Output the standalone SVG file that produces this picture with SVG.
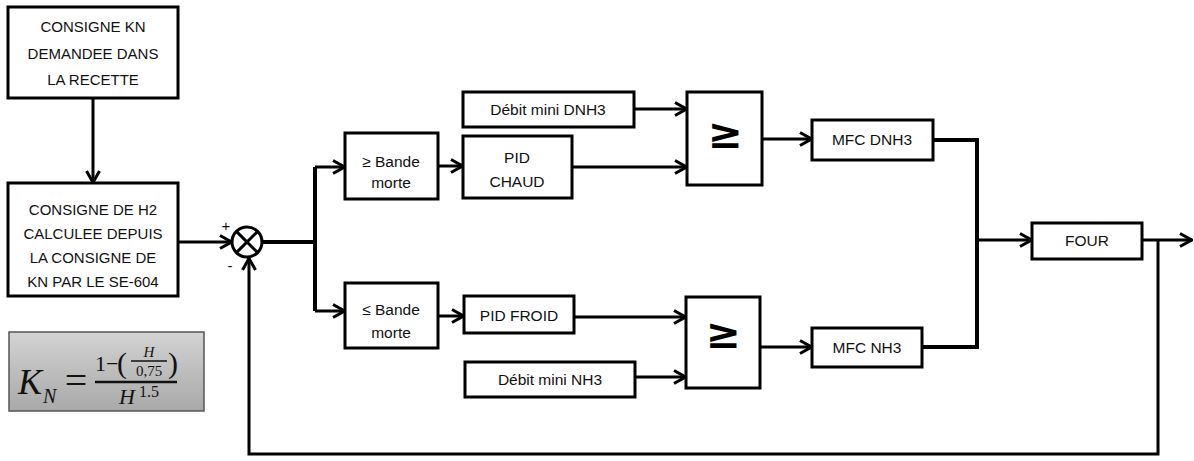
<svg xmlns="http://www.w3.org/2000/svg" width="1194" height="461" viewBox="0 0 1194 461">
<style>
.box{fill:#fff;stroke:#000;stroke-width:3}
.t{font-family:"Liberation Sans",Arial,sans-serif;font-size:15px;fill:#111;text-anchor:middle}
.t2{font-family:"Liberation Sans",Arial,sans-serif;font-size:15.5px;fill:#111;text-anchor:middle}
.ge{font-family:"DejaVu Sans",sans-serif;font-size:42px;fill:#000;text-anchor:middle;font-weight:bold}
.ln{fill:none;stroke:#000;stroke-width:3}
.lnb{fill:none;stroke:#000;stroke-width:4}
.m{font-family:"Liberation Serif","DejaVu Serif",serif;font-style:italic;fill:#111}
.r{font-family:"Liberation Serif","DejaVu Serif",serif;fill:#111}
</style>
<defs>
<marker id="arr" viewBox="0 0 14 16" refX="13" refY="8" markerWidth="14" markerHeight="16" markerUnits="userSpaceOnUse" orient="auto">
<path d="M1,1.5 L12.5,8 L1,14.5" fill="none" stroke="#000" stroke-width="3"/>
</marker>
<linearGradient id="gr" x1="0" y1="0" x2="0" y2="1">
<stop offset="0" stop-color="#d4d4d4"/>
<stop offset="0.5" stop-color="#bdbdbd"/>
<stop offset="1" stop-color="#a9a9a9"/>
</linearGradient>
</defs>

<g id="connectors">
<path class="ln" d="M93,98 V183" marker-end="url(#arr)"/>
<path class="ln" d="M178,242 H232" marker-end="url(#arr)"/>
<path class="lnb" d="M262,242 H315"/>
<path class="lnb" d="M315,167 V311"/>
<path class="ln" d="M315,167 H345" marker-end="url(#arr)"/>
<path class="ln" d="M315,311 H345" marker-end="url(#arr)"/>
<path class="ln" d="M438,166 H463" marker-end="url(#arr)"/>
<path class="ln" d="M438,316 H464" marker-end="url(#arr)"/>
<path class="ln" d="M634,109 H687" marker-end="url(#arr)"/>
<path class="ln" d="M572,167 H687" marker-end="url(#arr)"/>
<path class="ln" d="M574,317 H686" marker-end="url(#arr)"/>
<path class="ln" d="M635,377 H686" marker-end="url(#arr)"/>
<path class="ln" d="M762,139 H812" marker-end="url(#arr)"/>
<path class="ln" d="M760,347 H812" marker-end="url(#arr)"/>
<path class="lnb" d="M933,140 H977 V347 H922"/>
<path class="ln" d="M977,240 H1032" marker-end="url(#arr)"/>
<path class="ln" d="M1142,240 H1192" marker-end="url(#arr)"/>
<path class="ln" d="M1158,240 V454 H249 V258" marker-end="url(#arr)"/>
</g>

<g id="n-consigne-kn">
<rect class="box" x="8" y="7" width="170" height="91"/>
<text class="t" x="93" y="32">CONSIGNE KN</text>
<text class="t" x="93" y="59">DEMANDEE DANS</text>
<text class="t" x="93" y="85">LA RECETTE</text>
</g>

<g id="n-consigne-h2">
<rect class="box" x="8" y="183" width="170" height="113"/>
<text class="t" x="93" y="215">CONSIGNE DE H2</text>
<text class="t" x="93" y="239">CALCULEE DEPUIS</text>
<text class="t" x="93" y="263">LA CONSIGNE DE</text>
<text class="t" x="93" y="287">KN PAR LE SE-604</text>
</g>

<g id="n-sum">
<circle cx="247" cy="242" r="15" fill="#fff" stroke="#000" stroke-width="3"/>
<path d="M236.4,231.4 L257.6,252.6 M257.6,231.4 L236.4,252.6" stroke="#000" stroke-width="3"/>
<text class="t" x="226" y="231">+</text>
<text class="t" x="230" y="271">-</text>
</g>

<g id="n-formula">
<rect x="9" y="332" width="195" height="79" fill="url(#gr)" stroke="#555" stroke-width="1.5"/>
<text class="m" x="18" y="394" font-size="36">K</text>
<text class="m" x="43" y="403" font-size="20">N</text>
<text class="r" x="76" y="394" font-size="40" text-anchor="middle">=</text>
<line x1="95" y1="382" x2="177" y2="382" stroke="#111" stroke-width="2.5"/>
<text class="r" x="95" y="371" font-size="22">1−</text>
<text class="r" x="117" y="373" font-size="30">(</text>
<text class="m" x="149" y="357" font-size="15" text-anchor="middle">H</text>
<line x1="131" y1="361" x2="167" y2="361" stroke="#111" stroke-width="1.5"/>
<text class="r" x="149" y="376" font-size="15" text-anchor="middle">0,75</text>
<text class="r" x="168" y="373" font-size="30">)</text>
<text class="m" x="127" y="404" font-size="22" text-anchor="middle">H</text>
<text class="r" x="149" y="397" font-size="16" text-anchor="middle">1.5</text>
</g>

<g id="n-bande-sup">
<rect class="box" x="345" y="133" width="93" height="66"/>
<text class="t2" x="391" y="167">≥ Bande</text>
<text class="t2" x="391" y="188">morte</text>
</g>

<g id="n-bande-inf">
<rect class="box" x="345" y="283" width="93" height="65"/>
<text class="t2" x="391" y="315">≤ Bande</text>
<text class="t2" x="391" y="338">morte</text>
</g>

<g id="n-debit-dnh3">
<rect class="box" x="463" y="92" width="171" height="35"/>
<text class="t2" x="548" y="115">Débit mini DNH3</text>
</g>

<g id="n-pid-chaud">
<rect class="box" x="463" y="136" width="109" height="62"/>
<text class="t2" x="517" y="163">PID</text>
<text class="t2" x="517" y="187">CHAUD</text>
</g>

<g id="n-pid-froid">
<rect class="box" x="464" y="296" width="110" height="37"/>
<text class="t2" x="519" y="321">PID FROID</text>
</g>

<g id="n-debit-nh3">
<rect class="box" x="465" y="362" width="170" height="35"/>
<text class="t2" x="550" y="385">Débit mini NH3</text>
</g>

<g id="n-max-sup">
<rect class="box" x="687" y="92" width="75" height="93"/>
<text class="ge" x="725" y="148">≥</text>
</g>

<g id="n-max-inf">
<rect class="box" x="686" y="297" width="74" height="91"/>
<text class="ge" x="723" y="348">≥</text>
</g>

<g id="n-mfc-dnh3">
<rect class="box" x="812" y="120" width="121" height="40"/>
<text class="t2" x="872" y="145">MFC DNH3</text>
</g>

<g id="n-mfc-nh3">
<rect class="box" x="812" y="328" width="110" height="39"/>
<text class="t2" x="867" y="353">MFC NH3</text>
</g>

<g id="n-four">
<rect class="box" x="1032" y="223" width="110" height="36"/>
<text class="t2" x="1087" y="246">FOUR</text>
</g>
</svg>
